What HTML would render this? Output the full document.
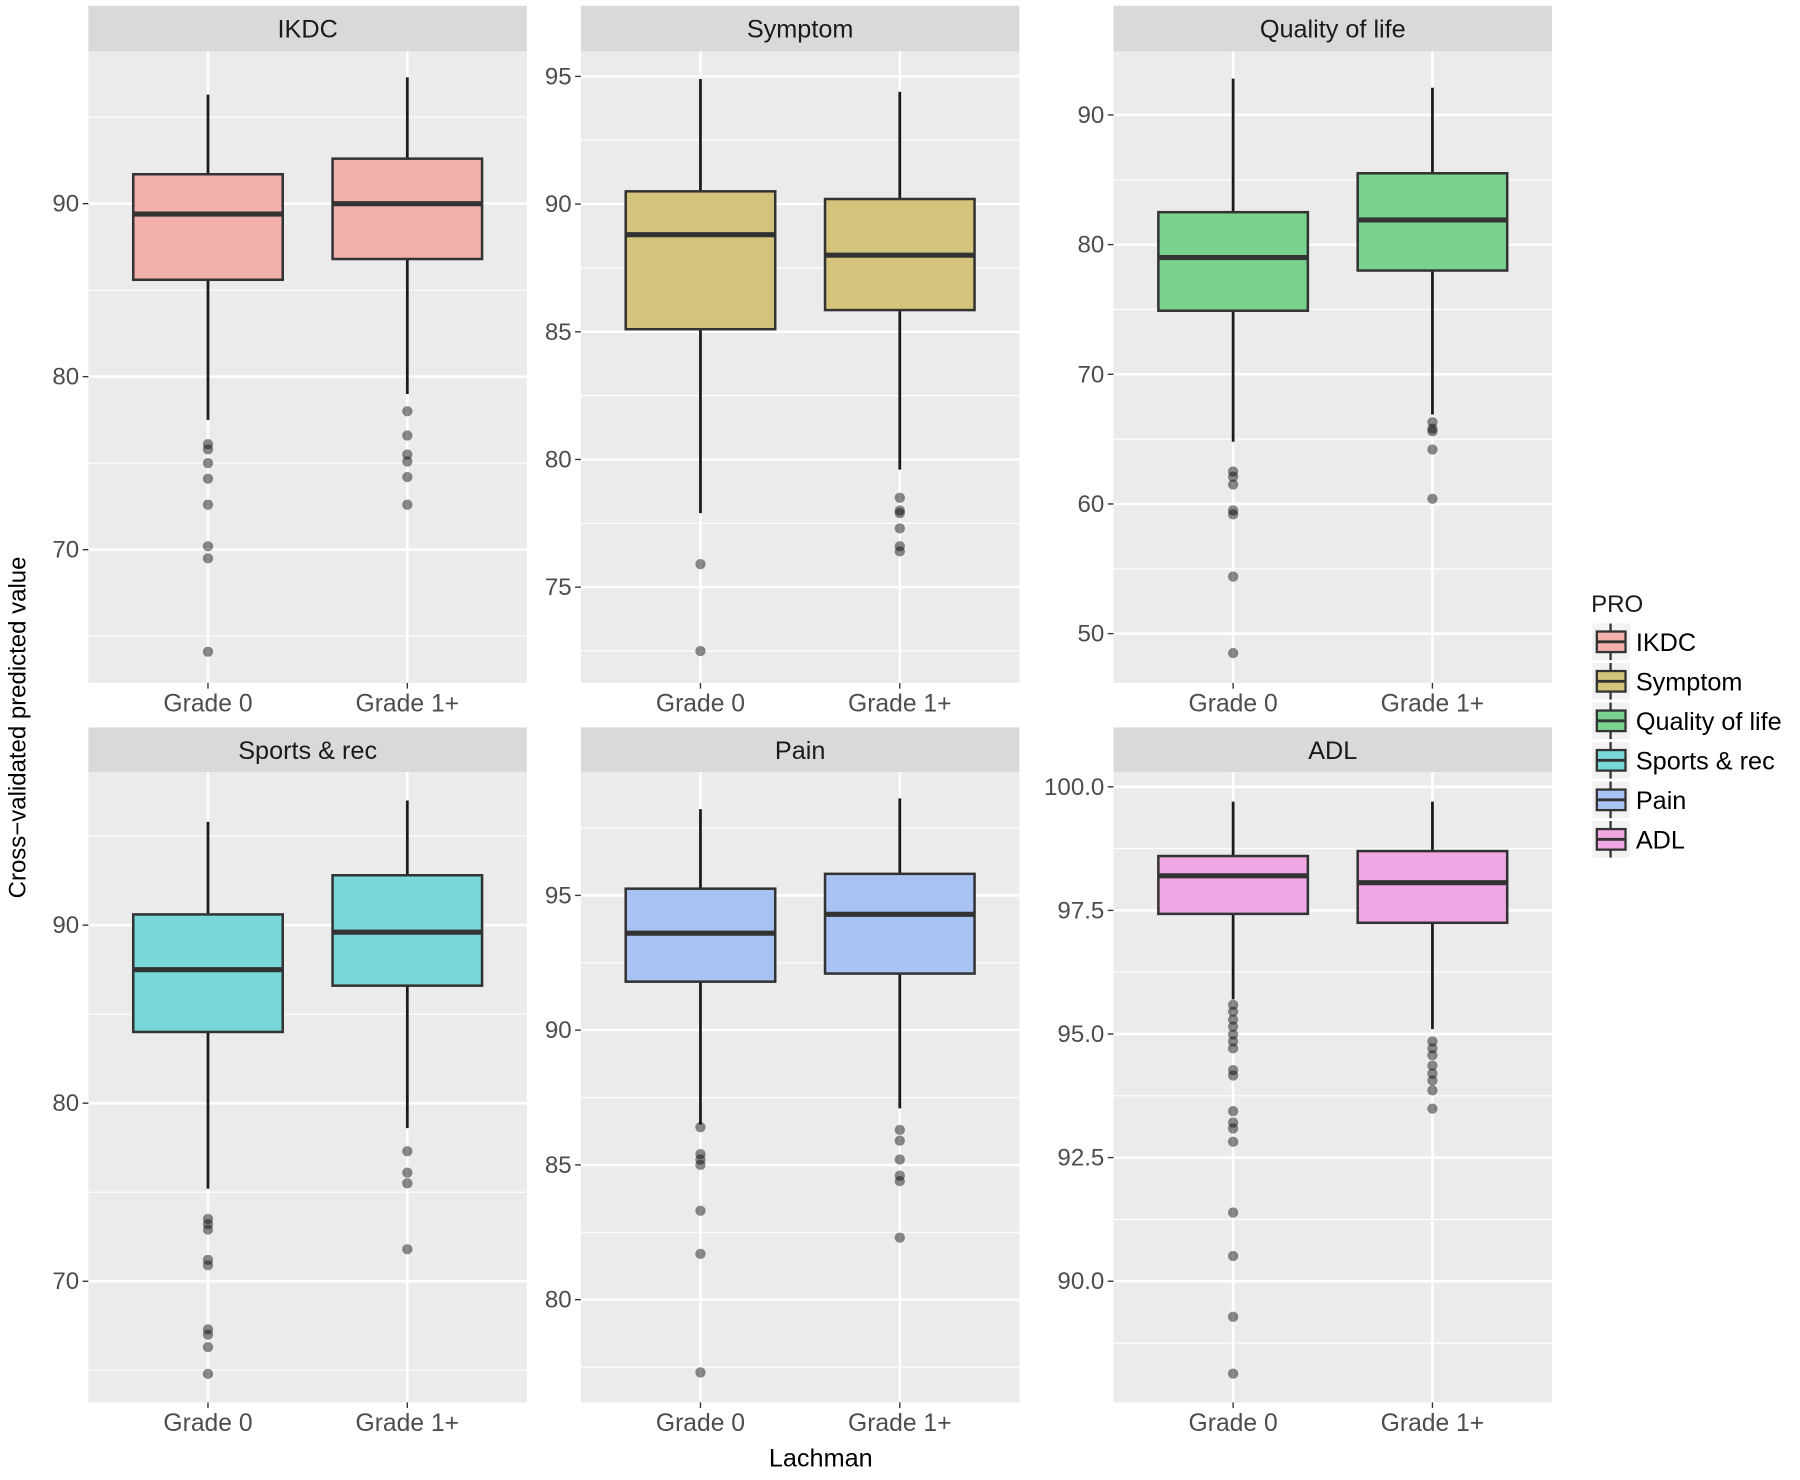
<!DOCTYPE html>
<html><head><meta charset="utf-8"><style>
html,body{margin:0;padding:0;background:#fff;}
svg{display:block;font-family:"Liberation Sans",Arial,sans-serif;}
</style></head><body>
<svg id="chart" width="1800" height="1480" viewBox="0 0 1568 1296" preserveAspectRatio="none" xmlns="http://www.w3.org/2000/svg">
<text transform="translate(22,637) rotate(-90)" text-anchor="middle" font-size="21" fill="#000">Cross−validated predicted value</text>
<text x="715" y="1284" text-anchor="middle" font-size="22" fill="#000">Lachman</text>
</svg>
<script>
const categories = ["Grade 0", "Grade 1+"];
const panelNames = ["IKDC", "Symptom", "Quality of life", "Sports & rec", "Pain", "ADL"];
const panelColors = ["#f2b0ab", "#d4c47b", "#79d38f", "#78d8d8", "#a8c3f3", "#f0a8e4"];
const yDomains = [[62.3, 98.8], [71.25, 95.98], [46.2, 94.9], [63.2, 98.6], [76.19, 99.58], [87.55, 100.3]];
const majorTicks = [[70, 80, 90], [75, 80, 85, 90, 95], [50, 60, 70, 80, 90], [70, 80, 90], [80, 85, 90, 95], [90, 92.5, 95, 97.5, 100]];
const tickLabels = [["70","80","90"], ["75","80","85","90","95"], ["50","60","70","80","90"], ["70","80","90"], ["80","85","90","95"], ["90.0","92.5","95.0","97.5","100.0"]];
const ikdcStats = [[77.5, 85.6, 89.4, 91.7, 96.3], [79.0, 86.8, 90.0, 92.6, 97.3]];
const symptomStats = [[77.9, 85.1, 88.8, 90.5, 94.9], [79.6, 85.85, 88.0, 90.2, 94.4]];
const qolStats = [[64.8, 74.9, 79.0, 82.5, 92.8], [66.9, 78.0, 81.9, 85.5, 92.1]];
const sportsStats = [[75.2, 84.0, 87.5, 90.6, 95.8], [78.6, 86.6, 89.6, 92.8, 97.0]];
const painStats = [[86.5, 91.8, 93.6, 95.25, 98.2], [87.1, 92.1, 94.3, 95.8, 98.6]];
const adlStats = [[95.7, 97.43, 98.2, 98.6, 99.7], [95.1, 97.25, 98.06, 98.7, 99.7]];
const ikdcOutliers = [[76.1, 75.8, 75.0, 74.1, 72.6, 70.2, 69.5, 64.1], [78.0, 76.6, 75.5, 75.1, 74.2, 72.6]];
const symptomOutliers = [[75.9, 72.5], [78.5, 78.0, 77.9, 77.3, 76.6, 76.4]];
const qolOutliers = [[62.5, 62.1, 61.5, 59.5, 59.2, 54.4, 48.5], [66.3, 65.8, 65.6, 64.2, 60.4]];
const sportsOutliers = [[73.5, 73.2, 72.9, 71.2, 70.9, 67.3, 67.0, 66.3, 64.8], [77.3, 76.1, 75.5, 71.8]];
const painOutliers = [[86.4, 85.4, 85.2, 85.0, 83.3, 81.7, 77.3], [86.3, 85.9, 85.2, 84.6, 84.4, 82.3]];
const adlOutliers = [[95.59, 95.45, 95.29, 95.15, 94.99, 94.85, 94.71, 94.27, 94.16, 93.44, 93.21, 93.09, 92.82, 91.39, 90.51, 89.28, 88.13], [94.85, 94.71, 94.57, 94.36, 94.2, 94.06, 93.86, 93.49]];

const allStats = [ikdcStats, symptomStats, qolStats, sportsStats, painStats, adlStats];
const allOutliers = [ikdcOutliers, symptomOutliers, qolOutliers, sportsOutliers, painOutliers, adlOutliers];

const NS = "http://www.w3.org/2000/svg";
const svg = document.getElementById("chart");
function mk(tag, attrs, parent) {
  const e = document.createElementNS(NS, tag);
  for (const k in attrs) e.setAttribute(k, attrs[k]);
  (parent || svg).appendChild(e);
  return e;
}
const colX = [[77, 459], [506, 888], [970, 1352]];
const rowY = [[5, 45, 598], [637, 676, 1228]];
const slug = n => n.toLowerCase().replace(/[^a-z]+/g, "-").replace(/-$/, "");

panelNames.forEach((name, p) => {
  const c = p % 3, r = Math.floor(p / 3);
  const [x0, x1] = colX[c];
  const [s0, y0, y1] = rowY[r];
  const g = mk("g", {});
  
  
  const [d0, d1] = yDomains[p];
  const yS = v => y1 - (v - d0) / (d1 - d0) * (y1 - y0);
  const bandW = (x1 - x0) / 2.2;
  const xS = i => x0 + bandW * 0.6 + i * bandW;
  const strip = mk("rect", {x: x0, y: s0, width: x1 - x0, height: y0 - s0, fill: "#d9d9d9"}, g);
  
  
  const st = mk("text", {x: (x0 + x1) / 2, y: (s0 + y0) / 2 + 8, "text-anchor": "middle", "font-size": 22, fill: "#1a1a1a"}, g);
  st.textContent = name;
  
  
  const bg = mk("rect", {x: x0, y: y0, width: x1 - x0, height: y1 - y0, fill: "#ebebeb"}, g);
  
  
  const mt = majorTicks[p];
  const step = mt[1] - mt[0];
  for (let v = mt[0] - step / 2; v <= d1; v += step) {
    if (v < d0) continue;
    const ln = mk("line", {x1: x0, x2: x1, y1: yS(v), y2: yS(v), stroke: "#fff", "stroke-width": 1}, g);
    
    
  }
  mt.forEach((v, i) => {
    const ln = mk("line", {x1: x0, x2: x1, y1: yS(v), y2: yS(v), stroke: "#fff", "stroke-width": 2.2}, g);
    
    
    const tk = mk("line", {x1: x0 - 5, x2: x0, y1: yS(v), y2: yS(v), stroke: "#333", "stroke-width": 1.2}, g);
    
    
    const t = mk("text", {x: x0 - 8, y: yS(v) + 7, "text-anchor": "end", "font-size": 21, fill: "#4d4d4d"}, g);
    t.textContent = tickLabels[p][i];
    
    
  });
  categories.forEach((cat, i) => {
    const x = xS(i);
    const vg = mk("line", {x1: x, x2: x, y1: y0, y2: y1, stroke: "#fff", "stroke-width": 2.2}, g);
    
    
    const tk = mk("line", {x1: x, x2: x, y1: y1, y2: y1 + 5, stroke: "#333", "stroke-width": 1.2}, g);
    
    
    const t = mk("text", {x: x, y: y1 + 25, "text-anchor": "middle", "font-size": 21.5, fill: "#4d4d4d"}, g);
    t.textContent = cat;
    
    
    const [lo, q1, med, q3, hi] = allStats[p][i];
    const bw = bandW * 0.75;
    const wh = mk("line", {x1: x, x2: x, y1: yS(hi), y2: yS(lo), stroke: "#1a1a1a", "stroke-width": 2.4}, g);
    
    
    const box = mk("rect", {x: x - bw / 2, y: yS(q3), width: bw, height: yS(q1) - yS(q3), fill: panelColors[p], stroke: "#333", "stroke-width": 2.2}, g);
    
    
    const md = mk("line", {x1: x - bw / 2, x2: x + bw / 2, y1: yS(med), y2: yS(med), stroke: "#333", "stroke-width": 4.5}, g);
    
    
    allOutliers[p][i].forEach(v => {
      const o = mk("circle", {cx: x, cy: yS(v), r: 4.5, fill: "#000", "fill-opacity": 0.45}, g);
      
      
    });
  });
});

const lg = mk("g", {});


const lt = mk("text", {x: 1386, y: 536, "font-size": 21, fill: "#1a1a1a"}, lg);
lt.textContent = "PRO";


panelNames.forEach((name, i) => {
  const cy = 562 + i * 34.6;
  const e = mk("g", {}, lg);
  
  
  mk("rect", {x: 1387, y: cy - 16, width: 33, height: 32, fill: "#f2f2f2"}, e);
  mk("line", {x1: 1403, x2: 1403, y1: cy - 16, y2: cy + 16, stroke: "#333", "stroke-width": 2}, e);
  mk("rect", {x: 1391, y: cy - 9, width: 25, height: 18, fill: panelColors[i], stroke: "#333", "stroke-width": 2}, e);
  mk("line", {x1: 1391, x2: 1416, y1: cy, y2: cy, stroke: "#333", "stroke-width": 2.5}, e);
  const t = mk("text", {x: 1425, y: cy + 8, "font-size": 22, fill: "#000"}, e);
  t.textContent = name;
  
  
});
</script>
</body></html>
